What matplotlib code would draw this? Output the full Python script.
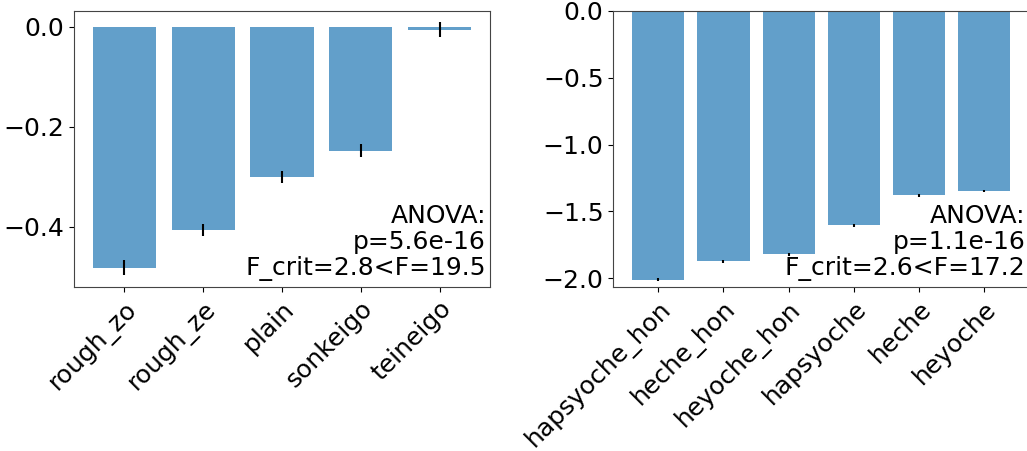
import matplotlib
matplotlib.use("Agg")
import matplotlib.pyplot as plt

# Left panel: Japanese speech levels
jp_labels = ["rough_zo", "rough_ze", "plain", "sonkeigo", "teineigo"]
jp_means = [-0.482, -0.407, -0.300, -0.248, -0.006]
jp_errs = [0.015, 0.012, 0.012, 0.013, 0.015]
jp_stats = "ANOVA:\np=5.6e-16\nF_crit=2.8<F=19.5"

# Right panel: Korean speech levels
ko_labels = ["hapsyoche_hon", "heche_hon", "heyoche_hon", "hapsyoche", "heche", "heyoche"]
ko_means = [-2.013, -1.874, -1.822, -1.606, -1.380, -1.349]
ko_errs = [0.010, 0.010, 0.010, 0.010, 0.010, 0.010]
ko_stats = "ANOVA:\np=1.1e-16\nF_crit=2.6<F=17.2"

FS = 18
W, H = 1027, 451
fig = plt.figure(figsize=(W / 100, H / 100), dpi=100)

ax1 = fig.add_axes([74 / W, (H - 287) / H, 416 / W, 276 / H])
ax2 = fig.add_axes([613.3 / W, (H - 287) / H, 416 / W, 276 / H])


def draw(ax, labels, means, errs, stats):
    x = range(len(labels))
    ax.bar(x, means, width=0.8, color="tab:blue", alpha=0.7,
           yerr=errs, error_kw=dict(ecolor="black", elinewidth=1.5, capsize=0))
    ax.set_xticks(list(x))
    ax.set_xticklabels(labels, rotation=45, ha="right", rotation_mode="anchor",
                       fontsize=FS)
    ax.tick_params(axis="y", labelsize=FS)
    for s in ax.spines.values():
        s.set_color("#444444")
    ax.text(0.99, 0.02, stats, transform=ax.transAxes, ha="right", va="bottom",
            fontsize=FS, linespacing=1.12)


draw(ax1, jp_labels, jp_means, jp_errs, jp_stats)
ax1.set_ylim(-0.5206, 0.031)
ax1.set_yticks([0.0, -0.2, -0.4])

draw(ax2, ko_labels, ko_means, ko_errs, ko_stats)
ax2.set_ylim(-2.067, 0.0)

fig.savefig("out.png", dpi=100)
